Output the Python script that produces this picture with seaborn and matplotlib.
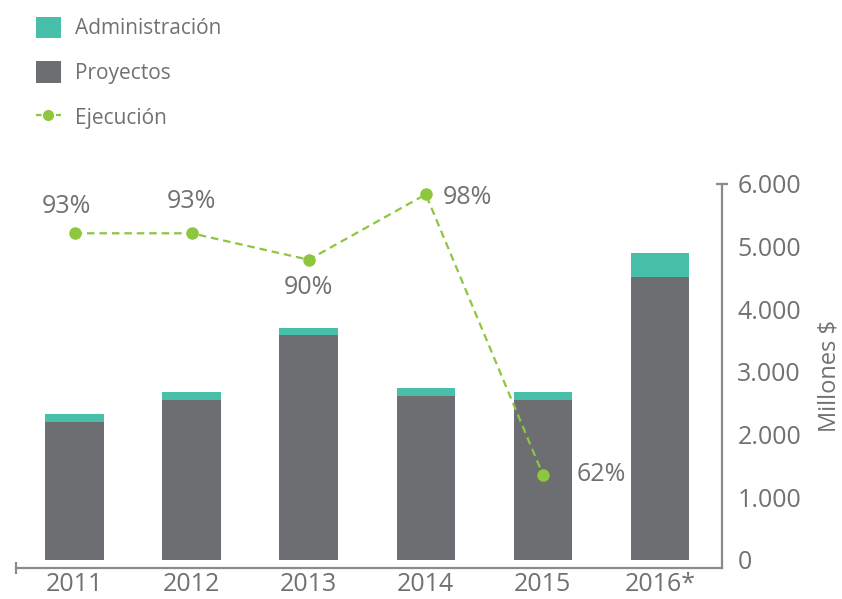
import matplotlib
matplotlib.use("Agg")
import matplotlib.pyplot as plt
import seaborn as sns
import numpy as np
import pandas as pd
from matplotlib.patches import Patch
from matplotlib.lines import Line2D
from matplotlib.ticker import FuncFormatter

# ---- data ----
years = ["2011", "2012", "2013", "2014", "2015", "2016*"]
proyectos = [2200, 2550, 3590, 2620, 2550, 4515]
administracion = [130, 130, 110, 125, 130, 385]
ejec_years = ["2011", "2012", "2013", "2014", "2015"]
ejecucion = [93, 93, 89.6, 98, 62]

TEAL = "#48bfa8"
GRAY = "#6d6e71"
GREEN = "#8dc63f"
TEXT = "#707173"
AXIS = "#8a8b8d"

sns.set_theme(style="white")
plt.rcParams["font.family"] = ["Open Sans", "DejaVu Sans"]

fig = plt.figure(figsize=(8.42, 5.99), dpi=100)
ax = fig.add_axes([16 / 842, 1 - 568 / 599, (722 - 16) / 842, (568 - 184) / 599])

df = pd.DataFrame({"year": years, "proy": proyectos, "adm": administracion})
df["total"] = df["proy"] + df["adm"]

sns.barplot(data=df, x="year", y="total", color=TEAL, width=0.5, ax=ax,
            saturation=1, edgecolor="none", linewidth=0)
sns.barplot(data=df, x="year", y="proy", color=GRAY, width=0.5, ax=ax,
            saturation=1, edgecolor="none", linewidth=0)

# ---- line on twin axis ----
ax2 = ax.twinx()
x_pos = np.arange(len(ejec_years))
sns.lineplot(x=x_pos, y=ejecucion, ax=ax2, color=GREEN, linestyle=(0, (3.4, 2.2)),
             linewidth=1.6, marker="o", markersize=9, markeredgewidth=0, zorder=5)
ax2.set_ylim(50, 99.33)
ax2.set_axis_off()

offsets = [(-6, 19), (0, 23), (0, -20), (12, -2), (24, 0)]
aligns = ["center", "center", "center", "left", "left"]
for xp, v, off, ha in zip(x_pos, ejecucion, offsets, aligns):
    ax2.annotate(f"{v:.0f}%", (xp, v), xytext=off, textcoords="offset points",
                 ha=ha, va="center", fontsize=18, color=TEXT)

# ---- main axis styling (after twinx, which moves ticks) ----
ax.set_xlim(-0.5, 5.53)
ax.set_ylim(-128, 6000)
ax.set_yticks(range(0, 6001, 1000))
ax.yaxis.set_major_formatter(FuncFormatter(lambda v, p: f"{int(v):,}".replace(",", ".")))
ax.yaxis.tick_right()
ax.yaxis.set_label_position("right")
ax.set_xlabel("")
ax.set_ylabel("Millones $", color=TEXT, fontsize=17, labelpad=12)

for s in ["top", "left"]:
    ax.spines[s].set_visible(False)
for s in ["bottom", "right"]:
    ax.spines[s].set_visible(True)
    ax.spines[s].set_color(AXIS)
    ax.spines[s].set_linewidth(1.6)

ax.tick_params(axis="x", length=0, pad=3, labelsize=18, labelcolor=TEXT)
ax.tick_params(axis="y", which="major", length=0, pad=11, labelsize=18, labelcolor=TEXT,
               right=True, left=False, labelright=True, labelleft=False)
ax.yaxis.remove_overlapping_locs = False
ax.set_xticks([-0.5], minor=True)
ax.set_yticks([6000], minor=True)
ax.tick_params(axis="x", which="minor", direction="inout", length=9, width=1.6, color=AXIS,
               bottom=True, top=False)
ax.tick_params(axis="y", which="minor", direction="inout", length=9, width=1.6, color=AXIS,
               right=True, left=False, labelright=False, labelleft=False)
ax2.set_xlim(-0.5, 5.53)

# ---- legend ----
handles = [
    Patch(facecolor=TEAL, edgecolor="none"),
    Patch(facecolor=GRAY, edgecolor="none"),
    Line2D([0], [0], color=GREEN, linestyle=(0, (2.5, 2)), linewidth=1.6,
           marker="o", markersize=8, markeredgewidth=0),
]
labels = ["Administración", "Proyectos", "Ejecución"]
fig.legend(handles, labels, loc="upper left", bbox_to_anchor=(17 / 842, 1 + 2 / 599),
           frameon=False, fontsize=15, labelcolor=TEXT, handlelength=1.2,
           handleheight=1.2, labelspacing=1.05, handletextpad=0.7)

fig.savefig("out.png", dpi=100)
